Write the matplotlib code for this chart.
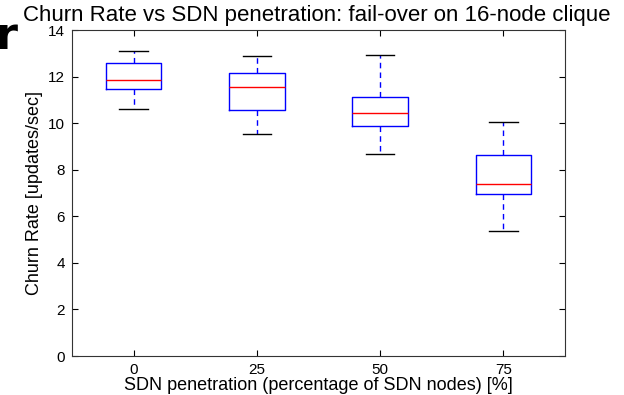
import matplotlib
matplotlib.use('Agg')
import matplotlib.pyplot as plt

plt.rcParams['font.family'] = ['Liberation Sans', 'DejaVu Sans']

# values
labels = ['0', '25', '50', '75']
whisker_low = [10.62, 9.52, 8.66, 5.37]
q1 = [11.46, 10.58, 9.87, 6.96]
median = [11.84, 11.55, 10.42, 7.40]
q3 = [12.57, 12.16, 11.13, 8.62]
whisker_high = [13.10, 12.89, 12.94, 10.05]

stats = []
for i in range(len(labels)):
    stats.append({
        'whislo': whisker_low[i], 'q1': q1[i], 'med': median[i],
        'q3': q3[i], 'whishi': whisker_high[i], 'fliers': [],
    })

fig = plt.figure(figsize=(6.24, 3.95), dpi=100)
ax = fig.add_axes([0.1154, 0.0987, 0.79, 0.8253])

ax.bxp(stats, positions=[1, 2, 3, 4], widths=0.45, showfliers=False,
       boxprops=dict(color='blue', linewidth=1.0),
       medianprops=dict(color='red', linewidth=1.0),
       whiskerprops=dict(color='blue', linestyle=(0, (4, 3)), linewidth=1.0),
       capprops=dict(color='black', linewidth=1.0),
       capwidths=0.23)

ax.set_xlim(0.5, 4.5)
ax.set_ylim(0, 14)
ax.set_xticks([1, 2, 3, 4])
ax.set_xticklabels(labels)
ax.set_yticks([0, 2, 4, 6, 8, 10, 12, 14])
ax.tick_params(direction='in', top=True, right=True, labelsize=11, length=4, pad=5)
for s in ax.spines.values():
    s.set_color('#333333')

ax.set_xlabel('SDN penetration (percentage of SDN nodes) [%]', fontsize=13, labelpad=0)
ax.set_ylabel('Churn Rate [updates/sec]', fontsize=13, labelpad=4)

fig.text(0.508, 0.96, 'Churn Rate vs SDN penetration: fail-over on 16-node clique',
         ha='center', va='center', fontsize=16)
# stray glyph at the top left of the slide
fig.text(-0.008, 0.875, 'r', ha='left', va='baseline', fontsize=32,
         fontweight='bold', family='DejaVu Sans')

fig.savefig('out.png', dpi=100)
